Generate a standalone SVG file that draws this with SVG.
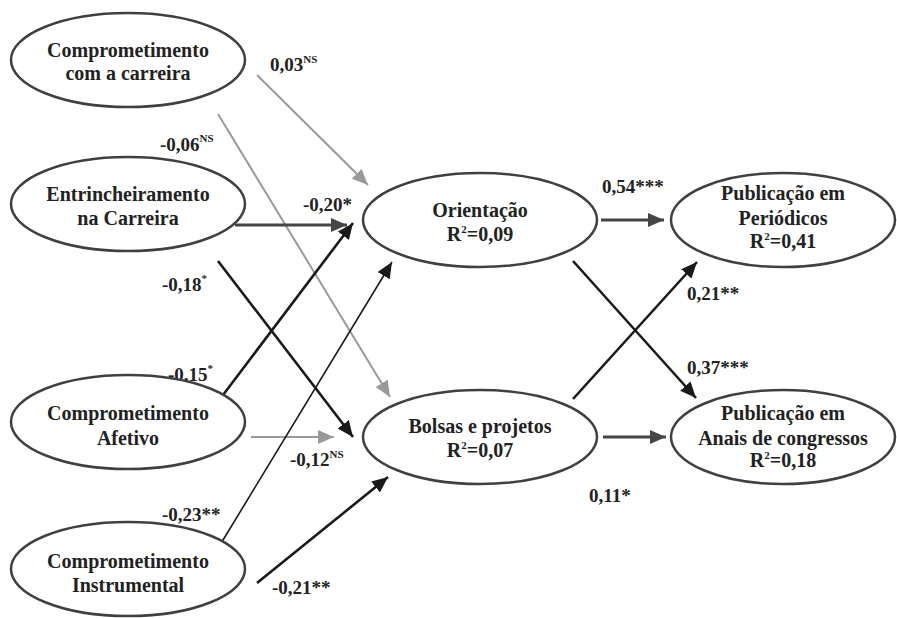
<svg xmlns="http://www.w3.org/2000/svg" width="897" height="618" viewBox="0 0 897 618" font-family="'Liberation Serif', 'DejaVu Serif', serif">
<style>
.n ellipse{fill:#fff;stroke:#404040;stroke-width:2.5}
text{font-family:'Liberation Serif','DejaVu Serif',serif;font-weight:bold;fill:#222}
.t{font-size:20px;text-anchor:middle}
.l{font-size:19px}
.sup{font-size:11px}
.e{fill:none}
.g{stroke:#9a9a9a;stroke-width:2;marker-end:url(#ag)}
.d{stroke:#454545;stroke-width:3;marker-end:url(#ad)}
.b{stroke:#1a1a1a;stroke-width:2.6;marker-end:url(#ab)}
.bt{stroke:#1a1a1a;stroke-width:1.6;marker-end:url(#ab)}
</style>
<defs>
<marker id="ag" markerUnits="userSpaceOnUse" markerWidth="18" markerHeight="14" refX="16" refY="7" orient="auto"><path d="M0,0 L16,7 L0,14 Z" fill="#9a9a9a"/></marker>
<marker id="ad" markerUnits="userSpaceOnUse" markerWidth="18" markerHeight="14" refX="16" refY="7" orient="auto"><path d="M0,0 L16,7 L0,14 Z" fill="#454545"/></marker>
<marker id="ab" markerUnits="userSpaceOnUse" markerWidth="18" markerHeight="14" refX="16" refY="7" orient="auto"><path d="M0,0 L16,7 L0,14 Z" fill="#1a1a1a"/></marker>
</defs>
<rect width="897" height="618" fill="#fff"/>
<g id="connectors">
<line class="e g" x1="257" y1="75" x2="368" y2="185"/>
<line class="e g" x1="218" y1="114" x2="390" y2="397"/>
<line class="e d" x1="235" y1="225" x2="347" y2="225"/>
<line class="e b" x1="218" y1="261" x2="353" y2="437"/>
<line class="e b" x1="220" y1="399" x2="353" y2="223"/>
<line class="e g" x1="251" y1="437" x2="334" y2="437"/>
<line class="e bt" x1="220" y1="545" x2="392" y2="262"/>
<line class="e b" x1="257" y1="583" x2="388" y2="477"/>
<line class="e d" x1="601" y1="220" x2="664" y2="220"/>
<line class="e b" x1="573" y1="261" x2="696" y2="398"/>
<line class="e b" x1="573" y1="399" x2="697" y2="262"/>
<line class="e d" x1="603" y1="437" x2="666" y2="437"/>
</g>
<g id="labels">
<text class="l" x="270" y="71">0,03<tspan class="sup" dy="-8">NS</tspan></text>
<text class="l" x="160" y="151">-0,06<tspan class="sup" dy="-9">NS</tspan></text>
<text class="l" x="303" y="211">-0,20*</text>
<text class="l" x="162" y="291">-0,18<tspan class="sup" dy="-9">*</tspan></text>
<text class="l" x="168" y="381">-0,15<tspan class="sup" dy="-9">*</tspan></text>
<text class="l" x="290" y="466">-0,12<tspan class="sup" dy="-8">NS</tspan></text>
<text class="l" x="162" y="521">-0,23**</text>
<text class="l" x="272" y="594">-0,21**</text>
<text class="l" x="602" y="193">0,54***</text>
<text class="l" x="687" y="300">0,21**</text>
<text class="l" x="687" y="374">0,37***</text>
<text class="l" x="589" y="502">0,11*</text>
</g>
<g id="n1" class="n"><ellipse cx="128" cy="60" rx="117" ry="47"/><text class="t" x="128" y="57">Comprometimento</text><text class="t" x="128" y="80">com a carreira</text></g>
<g id="n2" class="n"><ellipse cx="128" cy="204" rx="117" ry="47"/><text class="t" x="128" y="201">Entrincheiramento</text><text class="t" x="128" y="225">na Carreira</text></g>
<g id="n3" class="n"><ellipse cx="128" cy="422" rx="117" ry="47"/><text class="t" x="128" y="420">Comprometimento</text><text class="t" x="128" y="445">Afetivo</text></g>
<g id="n4" class="n"><ellipse cx="128" cy="569" rx="117" ry="47"/><text class="t" x="128" y="568">Comprometimento</text><text class="t" x="128" y="592">Instrumental</text></g>
<g id="n5" class="n"><ellipse cx="480" cy="220" rx="117" ry="47"/><text class="t" x="480" y="217">Orientação</text><text class="t" x="480" y="241">R<tspan class="sup" dy="-8">2</tspan><tspan dy="8">=0,09</tspan></text></g>
<g id="n6" class="n"><ellipse cx="480" cy="437" rx="117" ry="47"/><text class="t" x="480" y="433">Bolsas e projetos</text><text class="t" x="480" y="457">R<tspan class="sup" dy="-8">2</tspan><tspan dy="8">=0,07</tspan></text></g>
<g id="n7" class="n"><ellipse cx="783" cy="220" rx="112" ry="47"/><text class="t" x="783" y="200">Publicação em</text><text class="t" x="783" y="225">Periódicos</text><text class="t" x="783" y="248">R<tspan class="sup" dy="-8">2</tspan><tspan dy="8">=0,41</tspan></text></g>
<g id="n8" class="n"><ellipse cx="783" cy="437" rx="112" ry="47"/><text class="t" x="783" y="420">Publicação em</text><text class="t" x="783" y="445">Anais de congressos</text><text class="t" x="783" y="467">R<tspan class="sup" dy="-8">2</tspan><tspan dy="8">=0,18</tspan></text></g>
</svg>
